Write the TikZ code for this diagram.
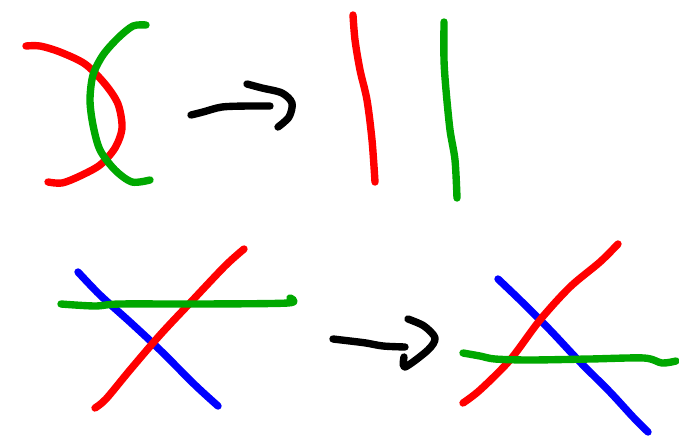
\documentclass[tikz,border=0pt]{standalone}
\usepackage{tikz}

\definecolor{penred}{RGB}{255,0,0}
\definecolor{pengreen}{RGB}{0,168,0}
\definecolor{penblue}{RGB}{0,0,255}

\begin{document}
\begin{tikzpicture}[x=0.02cm,y=-0.02cm,
    pen/.style={line width=4.2pt,line cap=round,line join=round}]
  \useasboundingbox (0,0) rectangle (679,436);
  % top left: crossing arcs
  \draw[pen,penred] plot[smooth,tension=0.5] coordinates {(26,46) (40,46) (60,52) (85,64) (105,84) (118,104) (122,128) (115,148) (100,165) (80,176) (62,183) (48,182)};
  \draw[pen,pengreen] plot[smooth,tension=0.5] coordinates {(146,25) (133,26) (118,38) (103,55) (93,75) (90,100) (93,125) (100,150) (115,170) (132,182) (150,180)};
  % top arrow
  \draw[pen,black] plot[smooth,tension=0.5] coordinates {(191,115) (203,112) (222,107) (248,106) (270,106)};
  \draw[pen,black] plot[smooth,tension=0.5] coordinates {(247,84) (262,88) (282,93) (292,103) (289,117) (278,127)};
  % top right: two strands
  \draw[pen,penred] plot[smooth,tension=0.5] coordinates {(353,15) (355,40) (360,70) (367,100) (372,140) (375,182)};
  \draw[pen,pengreen] plot[smooth,tension=0.5] coordinates {(444,22) (444,60) (446,90) (450,130) (455,160) (457,198)};
  % bottom left: three lines
  \draw[pen,penblue] plot[smooth,tension=0.5] coordinates {(78,272) (100,295) (130,322) (160,350) (195,385) (218,406)};
  \draw[pen,penred] plot[smooth,tension=0.5] coordinates {(95,408) (106,399) (130,370) (160,335) (190,303) (225,266) (244,249)};
  \draw[pen,pengreen] plot[smooth,tension=0.5] coordinates {(61,304) (95,306) (120,304) (200,304) (288,303) (290,298)};
  % bottom arrow
  \draw[pen,black] plot[smooth,tension=0.5] coordinates {(333,339) (350,341) (366,343) (383,346) (405,347)};
  \draw[pen,black] plot[smooth,tension=0.5] coordinates {(408,319) (424,326) (435,338) (428,350) (405,367) (404,357)};
  % bottom right: three lines, crossing moved
  \draw[pen,penblue] plot[smooth,tension=0.5] coordinates {(498,279) (520,300) (550,330) (580,362) (610,392) (633,417) (648,432)};
  \draw[pen,penred] plot[smooth,tension=0.5] coordinates {(463,403) (480,390) (510,360) (540,320) (570,287) (600,262) (618,244)};
  \draw[pen,pengreen] plot[smooth,tension=0.5] coordinates {(463,353) (480,356) (495,359) (530,360) (590,359) (644,358) (662,363) (676,361)};
\end{tikzpicture}
\end{document}
